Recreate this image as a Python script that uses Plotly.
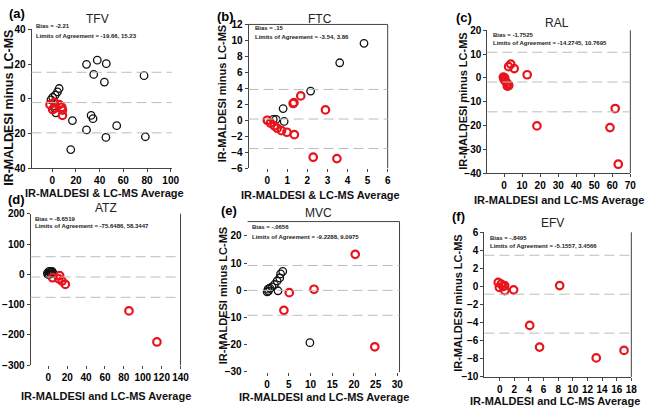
import plotly.graph_objects as go

W, H = 665, 414

# ---------------- data ----------------
# (a) TFV
tfv_black_x = [28.9, 38, 45.6, 35, 77.5, 44, 5.8, 4.4, 2.5, 0.3, -1.1, 3, 1.7, 32.8, 34.4, 17, 54.4, 28.9, 45.3, 78.6, 15.6]
tfv_black_y = [19.8, 22.2, 20.2, 14, 13.3, 9.6, 5.9, 4, 2.1, 0.8, -0.7, -8.1, -5.3, -9.6, -11.5, -12.6, -15.5, -18, -22.3, -21.9, -29.3]
tfv_red_x = [-1.9, 1.7, 5.8, 8, 3, 8.6, 8.6, 0.3]
tfv_red_y = [-3.4, -2.1, -3.4, -4.9, -5.3, -6.6, -9.6, -6.2]
# (b) FTC
ftc_black_x = [4.82, 3.61, 2.16, 0.79, 0.44, 0.84, 0.02, 0.3]
ftc_black_y = [9.63, 7.2, 3.66, 1.46, 0.1, -0.15, 0.02, 0.1]
ftc_red_x = [0, 0.16, 0.35, 0.5, 0.71, 0.98, 1.35, 1.29, 1.33, 1.67, 2.9, 2.29, 3.47]
ftc_red_y = [0, -0.35, -0.7, -1.0, -1.3, -1.5, -1.8, 2.1, 2.2, 3.05, 1.3, -4.63, -4.8]
# (c) RAL
ral_red_x = [3.7, 2.5, 5.6, 12.8, 18.2, 58.7, 61.6, 63.3, -0.4, 0, 0.6, 1.3, 2.0, 2.6, 0.3, 1.8]
ral_red_y = [5.8, 4.7, 3.9, 1.3, -20.2, -20.9, -12.9, -36.3, 0.3, -0.6, -1.3, -1.9, -2.6, -3.2, 0, -3.5]
# (d) ATZ
atz_black_x = [-1, 0.7, 2, 3, 4, 1, 5, 3, -0.5]
atz_black_y = [4, 10, 6, 2, 10, 0, 4, 8, 0]
atz_red_x = [4.5, 12, 11, 14.5, 18, 85.4, 115]
atz_red_y = [-11, -4, -15, -22, -33, -120.5, -223]
# (e) MVC
mvc_black_x = [9.85, 3.6, 3.1, 2.9, 2.3, 1.7, 1.1, 0.2, 0, 2.5, 0.6, 0.3]
mvc_black_y = [-19.3, 6.9, 6, 4.5, 3.4, 2.1, 1.2, 0.4, -0.6, -0.2, 0.8, -0.3]
mvc_red_x = [20.3, 10.8, 5.1, 3.86, 24.8]
mvc_red_y = [13.2, 0.36, -0.9, -7.4, -20.8]
# (f) EFV
efv_red_x = [-0.2, 0.2, 0.45, 0.7, -0.05, 1.9, 0.68, 8.2, 4.1, 5.45, 13.2, 17]
efv_red_y = [0.45, 0.27, 0, -0.45, -0.1, -0.37, 0.1, 0.1, -4.3, -6.7, -7.9, -7.07]

# bias / limits of agreement
bias_vals = [-2.21, 0.15, -1.7525, -8.6519, -0.0656, -0.8495]
loa_low = [-19.66, -3.54, -14.2745, -75.6486, -9.2288, -5.1557]
loa_high = [15.23, 3.86, 10.7695, 58.3447, 9.0975, 3.4566]
bias_txt = ["Bias = -2.21", "Bias = .15", "Bias = -1.7525", "Bias = -8.6519", "Bias = -.0656", "Bias = -.8495"]
loa_txt = ["Limits of Agreement = -19.66, 15.23", "Limits of Agreement = -3.54, 3.86",
           "Limits of Agreement = -14.2745, 10.7695", "Limits of Agreement = -75.6486, 58.3447",
           "Limits of Agreement = -9.2288, 9.0975", "Limits of Agreement = -5.1557, 3.4566"]
titles = ["TFV", "FTC", "RAL", "ATZ", "MVC", "EFV"]
labels = ["(a)", "(b)", "(c)", "(d)", "(e)", "(f)"]
xtitles = ["IR-MALDESI & LC-MS Average", "IR-MALDESI & LC-MS Average", "IR-MALDESI and LC-MS Average",
           "IR-MALDESI and LC-MS Average", "IR-MALDESI and LC-MS Average", "IR-MALDESI and LC-MS Average"]
ytitle = "IR-MALDESI minus LC-MS"

x_ticks = [list(range(0, 101, 20)), list(range(0, 7)), list(range(0, 71, 10)),
           list(range(0, 141, 20)), list(range(0, 31, 5)), list(range(0, 19, 2))]
y_ticks = [list(range(-40, 41, 20)), list(range(-6, 13, 2)), list(range(-40, 21, 10)),
           list(range(-300, 201, 100)), list(range(-30, 21, 10)), list(range(-10, 7, 2))]

# ---------------- layout geometry (pixels) ----------------
boxes = [  # x0, x1, y_top, y_bottom
    (32, 174, 24, 167),
    (252, 393, 19, 167),
    (494, 639, 25, 172),
    (31, 183, 214, 370),
    (251, 405, 222, 377),
    (491, 640, 233, 382),
]
xranges = [[-17.5, 100.8], [-0.93, 6], [-9.3, 70], [-18.8, 140], [-4.5, 30.5], [-2.1, 18]]
yranges = [[-40, 40], [-6, 12], [-40, 20], [-300, 200], [-30.1, 25.25], [-10, 6]]
# visible lines: left, bottom, right, top
lines = [(1, 1, 0, 0), (1, 0, 1, 1), (1, 1, 1, 0), (1, 0, 1, 0), (0, 0, 1, 1), (1, 1, 1, 0)]

label_pos = [(17, 8), (229, 11), (470, 12), (17, 199), (232, 211), (465, 217)]
title_pos = [(99, 13), (324, 13), (565, 17), (107, 208), (323, 213), (560, 223)]
xt_pos = [(106, 193), (325, 195), (567, 200), (107, 402), (328, 403), (563, 407)]
yt_pos = [(9, 105), (225, 90), (470, 98), None, (226, 298), (464, 306)]
yt_size = [12.5, 11, 11, None, 11, 11]
txt_pos = [(34, 21, 31), (256, 23, 32), (498, 30, 38), (33, 219, 227), (253, 228, 238), (495, 239, 247)]

series = [
    [(tfv_black_x, tfv_black_y, "black"), (tfv_red_x, tfv_red_y, "red")],
    [(ftc_black_x, ftc_black_y, "black"), (ftc_red_x, ftc_red_y, "red")],
    [(ral_red_x, ral_red_y, "red")],
    [(atz_black_x, atz_black_y, "black"), (atz_red_x, atz_red_y, "red")],
    [(mvc_black_x, mvc_black_y, "black"), (mvc_red_x, mvc_red_y, "red")],
    [(efv_red_x, efv_red_y, "red")],
]

FONT = "Arial, Liberation Sans, sans-serif"
AXC = "#444444"

def px(x):
    return x / W

def py(y):
    return 1 - y / H

fig = go.Figure()
layout = dict(width=W, height=H, margin=dict(l=0, r=0, t=0, b=0),
              paper_bgcolor="white", plot_bgcolor="white", showlegend=False,
              font=dict(family=FONT, color="black"))
annotations = []
shapes = []

def ann(text, x, y, size, color="black", xanchor="center", angle=0):
    annotations.append(dict(text=text, x=px(x), y=py(y), xref="paper", yref="paper",
                            showarrow=False, xanchor=xanchor, yanchor="middle",
                            textangle=angle, font=dict(size=size, family=FONT, color=color)))

for i in range(6):
    n = "" if i == 0 else str(i + 1)
    x0, x1, yt, yb = boxes[i]
    L, B, R, T = lines[i]
    for (xs, ys, c) in series[i]:
        col = "#111111" if c == "black" else "#e8141c"
        fig.add_trace(go.Scatter(
            x=xs, y=ys, mode="markers", xaxis="x" + n, yaxis="y" + n,
            marker=dict(symbol="circle-open", size=7.5, color=col,
                        line=dict(width=1.3 if c == "black" else 2.2, color=col)),
            hoverinfo="skip"))
    layout["xaxis" + n] = dict(
        domain=[px(x0), px(x1)], range=xranges[i], anchor="y" + n,
        tickvals=x_ticks[i], ticks="outside", ticklen=3, tickcolor=AXC, tickangle=0,
        showline=bool(B), linecolor=AXC, linewidth=1, mirror=False,
        showgrid=False, zeroline=False,
        tickfont=dict(size=10, family=FONT, weight="bold", color="black"))
    layout["yaxis" + n] = dict(
        domain=[py(yb), py(yt)], range=yranges[i], anchor="x" + n,
        tickvals=y_ticks[i], ticks="outside", ticklen=3, tickcolor=AXC,
        showline=bool(L), linecolor=AXC, linewidth=1,
        showgrid=False, zeroline=False,
        tickfont=dict(size=10, family=FONT, weight="bold", color="black"))
    if R:
        shapes.append(dict(type="line", xref="paper", yref="paper",
                           x0=px(x1), x1=px(x1), y0=py(yb), y1=py(yt),
                           line=dict(color=AXC, width=1)))
    if T:
        shapes.append(dict(type="line", xref="paper", yref="paper",
                           x0=px(x0), x1=px(x1), y0=py(yt), y1=py(yt),
                           line=dict(color=AXC, width=1)))
    for v in (loa_high[i], bias_vals[i], loa_low[i]):
        shapes.append(dict(type="line", xref="x" + n + " domain", yref="y" + n,
                           x0=0, x1=1, y0=v, y1=v,
                           line=dict(color="#bdbdbd", width=1, dash="10px,5px")))
    ann("<b>" + labels[i] + "</b>", *label_pos[i], 13)
    ann(titles[i], *title_pos[i], 12, color="#222222")
    ann("<b>" + xtitles[i] + "</b>", *xt_pos[i], 11, color="#111111")
    if yt_pos[i] is not None:
        ann("<b>" + ytitle + "</b>", *yt_pos[i], yt_size[i], color="#111111", angle=-90)
    tx, ty1, ty2 = txt_pos[i]
    ann("<b>" + bias_txt[i] + "</b>", tx, ty1, 6, color="#222222", xanchor="left")
    ann("<b>" + loa_txt[i] + "</b>", tx, ty2, 6, color="#222222", xanchor="left")

layout["annotations"] = annotations
layout["shapes"] = shapes
fig.update_layout(**layout)
fig.write_html("out.html")
